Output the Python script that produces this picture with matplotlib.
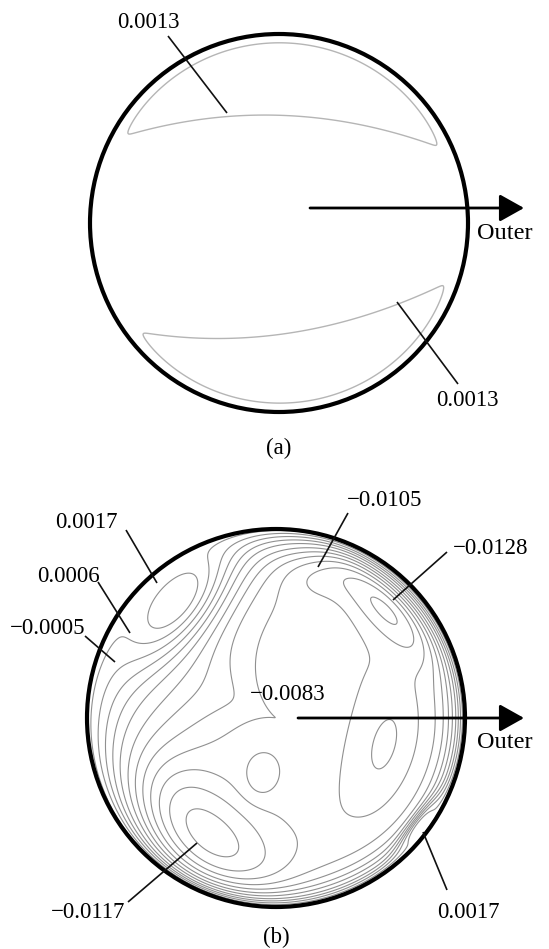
import numpy as np
import matplotlib
matplotlib.use("Agg")
import matplotlib.pyplot as plt
from matplotlib.patches import Circle

plt.rcParams['font.family'] = ['Liberation Serif', 'DejaVu Serif']

# ---- data ----
# (a): one level, band edges given by a midline and a half width (unit disk)
levels_a = [0.0013]
mid_a = [-0.01, 0.05]            # m0 + m1*x
half_a = [0.58, -0.08, -0.20]    # h0 + h1*x + h2*x^2

# (b): contour levels and the extrema of the field (unit disk coordinates)
levels_b = [-0.0128, -0.0117, -0.0105, -0.0094, -0.0083, -0.0072, -0.0061,
            -0.0050, -0.0038, -0.0027, -0.0016, -0.0005, 0.0006, 0.0017]
base_b = -0.0088
slope_b = [-0.0015, 0.0003]      # d/dx, d/dy of the core value
wall_b = 0.0012
ext_x = [-0.55, 0.58, -0.38, 0.22, -0.07, 0.57, 0.76]
ext_y = [0.63, 0.62, -0.61, 0.78, -0.31, -0.14, -0.57]
ext_amp = [0.0125, -0.0046, -0.0040, -0.0018, 0.0014, -0.0013, 0.0095]
ext_long = [0.28, 0.28, 0.34, 0.15, 0.09, 0.16, 0.13]
ext_short = [0.14, 0.09, 0.17, 0.10, 0.07, 0.07, 0.03]
ext_angle = [50, -46, -43, 0, 70, 75, 53]

labels_a = ["0.0013", "0.0013"]
labels_b = ["0.0017", "0.0006", "\u22120.0005", "\u22120.0105", "\u22120.0128",
            "\u22120.0083", "\u22120.0117", "0.0017"]


def blob(U, V, x0, y0, a, sl, ss, ang):
    t = np.deg2rad(ang)
    du, dv = U - x0, V - y0
    p = du * np.cos(t) + dv * np.sin(t)
    q = -du * np.sin(t) + dv * np.cos(t)
    return a * np.exp(-0.5 * (p / sl) ** 2 - 0.5 * (q / ss) ** 2)


def bump(TH, ang, k):
    return np.exp(k * (np.cos(TH - np.deg2rad(ang)) - 1))


u = np.linspace(-1, 1, 701)
U, V = np.meshgrid(u, u)
R = np.hypot(U, V)
TH = np.arctan2(V, U)
D = 1 - R

# field (a)
m = mid_a[0] + mid_a[1] * U
h = half_a[0] + half_a[1] * U + half_a[2] * U ** 2
Fa = levels_a[0] * ((V - m) / h) ** 2 * 0.5 * (1 + np.tanh((D - 0.05) / 0.012))
Fa[R > 1] = np.nan

# field (b)
inner = base_b + slope_b[0] * U + slope_b[1] * V
for k in range(len(ext_x)):
    inner = inner + blob(U, V, ext_x[k], ext_y[k], ext_amp[k], ext_long[k],
                         ext_short[k], ext_angle[k])
delta = 0.085 + 0.28 * bump(TH, 155, 3.5) - 0.035 * bump(TH, -125, 8)
Fb = wall_b + (inner - wall_b) * (1 - np.exp(-np.clip(D, 0, None) / delta))
Fb[R > 1] = np.nan

fig = plt.figure(figsize=(5.49, 9.49), dpi=100)
ax = fig.add_axes([0, 0, 1, 1])
ax.set_xlim(0, 549)
ax.set_ylim(949, 0)
ax.axis('off')

rad = 189
ca = (279, 223)
cb = (276, 718)

ax.contour(ca[0] + rad * U, ca[1] - rad * V, Fa, levels=levels_a,
           colors='#b5b5b5', linewidths=1.0, linestyles='solid')
ax.contour(cb[0] + rad * U, cb[1] - rad * V, Fb, levels=levels_b,
           colors='#909090', linewidths=0.8, linestyles='solid')

for c in (ca, cb):
    ax.add_patch(Circle(c, rad, fill=False, ec='black', lw=3.0, zorder=5))

fs = 16.5
# labels with leader lines: (text, text pos, line start, line end)
notes = [
    (labels_a[0], (148, 22), (168, 36), (227, 113)),
    (labels_a[1], (467, 400), (397, 302), (458, 384)),
    (labels_b[0], (86, 522), (126, 530), (157, 583)),
    (labels_b[1], (68, 577), (98, 582), (130, 633)),
    (labels_b[2], (48, 628), (85, 636), (115, 662)),
    (labels_b[3], (385, 500), (348, 513), (318, 567)),
    (labels_b[4], (491, 548), (447, 552), (393, 600)),
    (labels_b[5], (288, 695), None, None),
    (labels_b[6], (88, 913), (128, 902), (197, 843)),
    (labels_b[7], (468, 912), (447, 890), (423, 832)),
]
for txt, pos, p0, p1 in notes:
    ax.text(pos[0], pos[1], txt, fontsize=fs, ha='center', va='center', zorder=6)
    if p0 is not None:
        ax.plot([p0[0], p1[0]], [p0[1], p1[1]], color='#111111', lw=1.2,
                zorder=6, solid_capstyle='butt')

# arrows to the outer wall
for (x0, y0) in [(310, 208), (298, 718)]:
    ax.annotate('', xy=(524, y0), xytext=(x0, y0),
                arrowprops=dict(arrowstyle='-|>,head_length=0.75,head_width=0.42',
                                mutation_scale=20, lw=2.0, color='black',
                                shrinkA=0, shrinkB=0), zorder=7)
    ax.text(477, y0 + 25, "Outer", fontsize=17.5, ha='left', va='center', zorder=6)

ax.text(279, 448, "(a)", fontsize=fs, ha='center', va='center')
ax.text(276, 937, "(b)", fontsize=fs, ha='center', va='center')

fig.savefig("out.png", dpi=100)
